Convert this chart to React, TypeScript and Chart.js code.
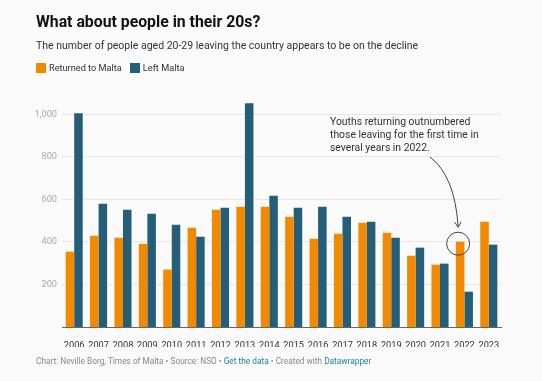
import React, { useEffect, useRef } from "react";
import { Chart, registerables } from "chart.js";

Chart.register(...registerables);

const years = ["2006", "2007", "2008", "2009", "2010", "2011", "2012", "2013", "2014", "2015", "2016", "2017", "2018", "2019", "2020", "2021", "2022", "2023"];
const returnedToMalta = [354, 429, 420, 391, 270, 466, 551, 565, 565, 518, 415, 438, 490, 443, 335, 293, 401, 495];
const leftMalta = [1005, 579, 551, 532, 481, 424, 560, 1052, 617, 560, 565, 518, 495, 420, 373, 298, 166, 387];
const yTickValues = [200, 400, 600, 800, 1000];
const annotationLines = [
  "Youths returning outnumbered",
  "those leaving for the first time in",
  "several years in 2022.",
];
const highlightIndex = 16;

const ORANGE = "#f18a00";
const BLUE = "#245e78";
const FONT = "Roboto, 'Noto Sans', sans-serif";

const annotationPlugin = {
  id: "annotation",
  afterDatasetsDraw(chart: any) {
    const ctx = chart.ctx;
    const bar = chart.getDatasetMeta(0).data[highlightIndex];
    if (!bar) return;
    ctx.save();
    ctx.font = `10.4px ${FONT}`;
    ctx.fillStyle = "#333";
    ctx.textBaseline = "middle";
    ctx.textAlign = "left";
    annotationLines.forEach((l, i) => ctx.fillText(l, 330, 122.5 + i * 13));
    const cx = bar.x - 2;
    const cy = bar.y + 2;
    const r = 11.5;
    ctx.strokeStyle = "#444";
    ctx.lineWidth = 1;
    ctx.beginPath();
    ctx.arc(cx, cy, r, 0, Math.PI * 2);
    ctx.stroke();
    const tipX = cx;
    const tipY = cy - r - 5;
    ctx.beginPath();
    ctx.moveTo(430, 157);
    ctx.quadraticCurveTo(455, 176, tipX, tipY);
    ctx.stroke();
    ctx.beginPath();
    ctx.moveTo(tipX - 3.5, tipY - 5);
    ctx.lineTo(tipX, tipY);
    ctx.lineTo(tipX + 3, tipY - 5.5);
    ctx.stroke();
    ctx.restore();
  },
};

export default function App() {
  const ref = useRef<HTMLCanvasElement | null>(null);
  useEffect(() => {
    if (!ref.current) return;
    const chart = new Chart(ref.current, {
      type: "bar",
      data: {
        labels: years,
        datasets: [
          { label: "Returned to Malta", data: returnedToMalta, backgroundColor: ORANGE, categoryPercentage: 0.7, barPercentage: 1.0 },
          { label: "Left Malta", data: leftMalta, backgroundColor: BLUE, categoryPercentage: 0.7, barPercentage: 1.0 },
        ],
      },
      options: {
        animation: false,
        responsive: false,
        devicePixelRatio: 1,
        layout: { padding: { left: 0, top: 93, right: 41, bottom: 34 } },
        plugins: { legend: { display: false }, title: { display: false }, tooltip: { enabled: false } },
        scales: {
          x: {
            grid: { display: false },
            border: { display: true, color: "#666", width: 1 },
            ticks: { color: "#333", font: { family: FONT, size: 9.2 }, maxRotation: 0, autoSkip: false, padding: 5 },
            afterFit: (s: any) => { s.height = 20; },
          },
          y: {
            min: 0,
            max: 1100,
            grid: { color: "#e6e6e6", drawTicks: false },
            border: { display: false },
            ticks: {
              color: "#aaa",
              padding: 5,
              font: { family: FONT, size: 9.2 },
              callback: (v: any) => Number(v).toLocaleString("en-US"),
            },
            afterBuildTicks: (s: any) => { s.ticks = yTickValues.map((v) => ({ value: v })); },
            afterFit: (s: any) => { s.width = 62; },
          },
        },
      },
      plugins: [annotationPlugin],
    });
    return () => chart.destroy();
  }, []);

  const sq = (c: string) => ({ display: "inline-block", width: 10, height: 10, background: c, marginRight: 3, flex: "0 0 auto" });
  return (
    <div style={{ position: "absolute", left: 0, top: 0, width: 542, height: 381, background: "#fafafa", fontFamily: FONT, overflow: "hidden" }}>
      <canvas ref={ref} width={542} height={381} style={{ position: "absolute", left: 0, top: 0, width: 542, height: 381 }} />
      <div style={{ position: "absolute", left: 36, top: 12.3, fontSize: 15.8, fontWeight: 700, color: "#111", lineHeight: "20px", whiteSpace: "nowrap" }}>
        What about people in their 20s?
      </div>
      <div style={{ position: "absolute", left: 36, top: 37.7, fontSize: 10.5, color: "#333", lineHeight: "16px", whiteSpace: "nowrap" }}>
        The number of people aged 20-29 leaving the country appears to be on the decline
      </div>
      <div style={{ position: "absolute", left: 36, top: 60.5, height: 14, display: "flex", alignItems: "center", fontSize: 9.2, color: "#333", lineHeight: "14px", whiteSpace: "nowrap" }}>
        <span style={sq(ORANGE)} />
        <span style={{ marginRight: 8 }}>Returned to Malta</span>
        <span style={sq(BLUE)} />
        <span>Left Malta</span>
      </div>
      <div style={{ position: "absolute", left: 36, top: 355, fontSize: 8.3, color: "#888", lineHeight: "12px", whiteSpace: "nowrap" }}>
        Chart: Neville Borg, Times of Malta • Source: NSO • <span style={{ color: "#1d81a2" }}>Get the data</span> • Created with <span style={{ color: "#1d81a2" }}>Datawrapper</span>
      </div>
    </div>
  );
}
